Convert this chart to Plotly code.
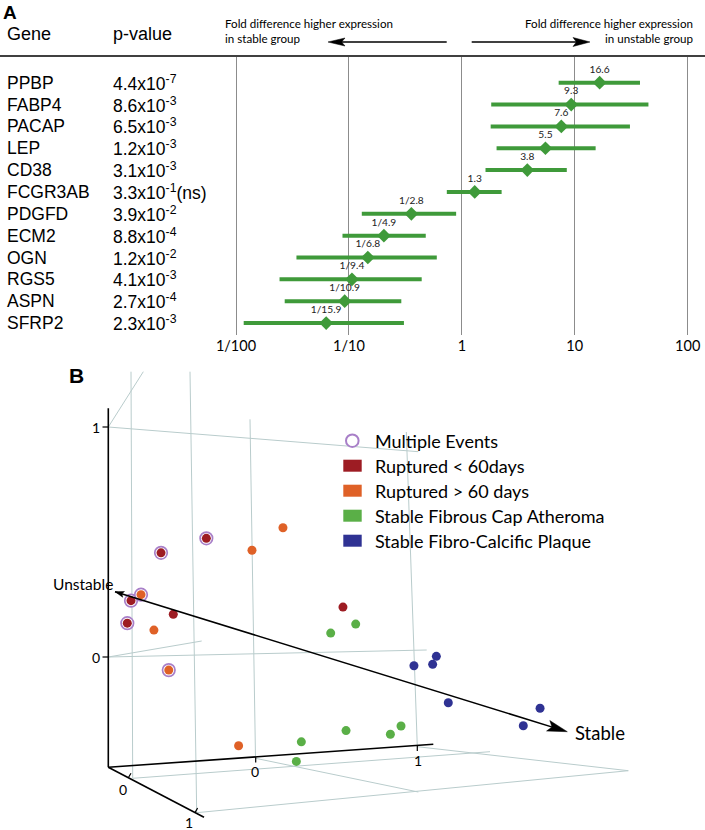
import math
import plotly.graph_objects as go

# ---------------- Panel A data ----------------
genes = ["PPBP", "FABP4", "PACAP", "LEP", "CD38", "FCGR3AB", "PDGFD", "ECM2",
         "OGN", "RGS5", "ASPN", "SFRP2"]
p_mantissa = ["4.4", "8.6", "6.5", "1.2", "3.1", "3.3", "3.9", "8.8", "1.2", "4.1", "2.7", "2.3"]
p_exponent = [-7, -3, -3, -3, -3, -1, -2, -4, -2, -3, -4, -3]
p_note = ["", "", "", "", "", "(ns)", "", "", "", "", "", ""]
fold = [16.6, 9.3, 7.6, 5.5, 3.8, 1.3, 1 / 2.8, 1 / 4.9, 1 / 6.8, 1 / 9.4, 1 / 10.9, 1 / 15.9]
fold_labels = ["16.6", "9.3", "7.6", "5.5", "3.8", "1.3", "1/2.8", "1/4.9", "1/6.8",
               "1/9.4", "1/10.9", "1/15.9"]
ci_low = [7.2, 1.82, 1.8, 2.03, 1.62, 0.736, 0.130, 0.0877, 0.0343, 0.0243, 0.027, 0.0117]
ci_high = [37.8, 44.9, 30.8, 15.3, 8.5, 2.25, 0.89, 0.479, 0.60, 0.441, 0.291, 0.307]
x_tickvals = [0.01, 0.1, 1, 10, 100]
x_ticktext = ["1/100", "1/10", "1", "10", "100"]

# ---------------- Panel B data (projected plane units) ----------------
legend_names = ["Multiple Events", "Ruptured < 60days", "Ruptured > 60 days",
                "Stable Fibrous Cap Atheroma", "Stable Fibro-Calcific Plaque"]
red_u = [-0.587, -0.306, -0.773, -0.796, -0.511, 0.541]
red_v = [0.453, 0.516, 0.245, 0.147, 0.186, 0.217]
red_multi = [1, 1, 1, 1, 0, 0]
orange_u = [-0.711, -0.631, -0.539, -0.023, 0.169, -0.106]
orange_v = [0.271, 0.117, -0.057, 0.464, 0.562, -0.386]
orange_multi = [1, 0, 1, 0, 0, 0]
green_u = [0.465, 0.620, 0.283, 0.252, 0.560, 0.835, 0.901]
green_v = [0.104, 0.143, -0.369, -0.454, -0.320, -0.336, -0.300]
blue_u = [0.981, 1.097, 1.120, 1.194, 1.763, 1.659]
blue_v = [-0.038, -0.032, 0.003, -0.199, -0.223, -0.299]

# ---------------- styling ----------------
W, H = 705, 830
GREEN_A = "#3f9a3a"
RED = "#9d1c23"
ORANGE = "#df6127"
GREEN = "#5aaf47"
BLUE = "#2f3293"
PURPLE = "#a87fc8"
GRID_B = "#b9cccc"
MYRIAD = "Lato"
ARIAL = "Liberation Sans"

shapes = []
annotations = []


def px(x, y):
    return x / W, 1 - y / H


def seg(x0, y0, x1, y1, color="black", width=1.0, layer="below"):
    a0, b0 = px(x0, y0)
    a1, b1 = px(x1, y1)
    shapes.append(dict(type="line", xref="paper", yref="paper", x0=a0, y0=b0, x1=a1, y1=b1,
                       line=dict(color=color, width=width), layer=layer))


def box(x0, y0, x1, y1, kind="rect", fill="black", line_color=None, line_width=0):
    a0, b0 = px(x0, y1)
    a1, b1 = px(x1, y0)
    shapes.append(dict(type=kind, xref="paper", yref="paper", x0=a0, y0=b0, x1=a1, y1=b1,
                       fillcolor=fill, layer="above",
                       line=dict(color=line_color or fill, width=line_width)))


def head(tx, ty, sx, sy, L, Wd, color="black"):
    dx, dy = tx - sx, ty - sy
    n = math.hypot(dx, dy)
    dx, dy = dx / n, dy / n
    nx, ny = -dy, dx
    bx, by = tx - L * dx, ty - L * dy
    nbx, nby = tx - 0.8 * L * dx, ty - 0.8 * L * dy
    pts = [(tx, ty), (bx + Wd * nx, by + Wd * ny), (nbx, nby), (bx - Wd * nx, by - Wd * ny)]
    path = "M " + " L ".join("%f,%f" % px(*p) for p in pts) + " Z"
    shapes.append(dict(type="path", xref="paper", yref="paper", path=path,
                       fillcolor=color, line=dict(color=color, width=0.5), layer="above"))


def txt(x, y, text, size, family=MYRIAD, xanchor="center", yanchor="middle",
        align="center", color="black", yref="paper"):
    xx, yy = px(x, y)
    if yref != "paper":
        yy = y
    annotations.append(dict(x=xx, y=yy, xref="paper", yref=yref, text=text, showarrow=False,
                            xanchor=xanchor, yanchor=yanchor, align=align,
                            font=dict(size=size, family=family, color=color)))


fig = go.Figure()

# ---------------- Panel A ----------------
rows = list(range(len(genes)))
fig.add_trace(go.Scatter(
    x=fold, y=rows, mode="markers+text",
    marker=dict(symbol="diamond", size=10.5, color=GREEN_A),
    error_x=dict(type="data", symmetric=False,
                 array=[h - f for h, f in zip(ci_high, fold)],
                 arrayminus=[f - l for f, l in zip(fold, ci_low)],
                 thickness=4, width=0, color=GREEN_A),
    text=fold_labels, textposition="top center",
    textfont=dict(size=10.2, family=MYRIAD, color="#222222"),
    cliponaxis=False, showlegend=False, hoverinfo="skip",
    xaxis="x", yaxis="y"))

for i, g in enumerate(genes):
    txt(5, i, g, 17.5, family=ARIAL, xanchor="left", yref="y")
    txt(111, i, "%sx10<sup>%d</sup>%s" % (p_mantissa[i], p_exponent[i], p_note[i]), 17.5,
        family=ARIAL, xanchor="left", yref="y")

txt(1, 12, "<b>A</b>", 19, family=ARIAL, xanchor="left")
txt(5, 34, "Gene", 18, family=ARIAL, xanchor="left")
txt(111, 34, "p-value", 18, family=ARIAL, xanchor="left")
txt(223, 31, "Fold difference higher expression<br>in stable group", 11.6,
    xanchor="left", align="left")
txt(695, 31, "Fold difference higher expression<br>in unstable group", 11.6,
    xanchor="right", align="right")
seg(0, 56, 705, 56, "black", 1.5, layer="above")
seg(446.7, 42, 335, 42, "black", 1.5, layer="above")
head(328, 42, 446.7, 42, 17, 4)
seg(471.7, 42, 583, 42, "black", 1.5, layer="above")
head(590, 42, 471.7, 42, 17, 4.5)

# ---------------- Panel B ----------------
grid_lines = [
    (131, 371.7, 132.7, 778.3), (190, 371.7, 196.7, 812.7), (250, 419.3, 255.5, 758.3),
    (406.3, 432, 417.3, 746.7), (108.3, 427, 143.3, 371.7), (108.3, 427, 418.3, 451.7),
    (108.3, 657, 426.7, 650), (108.3, 657, 201.7, 641), (132.7, 778.3, 490, 751.7),
    (196.7, 812.7, 628.3, 770.7), (255.5, 758.3, 418.3, 792), (417.3, 746.7, 628.3, 770.7),
]
for l in grid_lines:
    seg(*l, color=GRID_B, width=1)

axis_lines = [(108.3, 408.3, 108.3, 767.3), (108.3, 767.3, 433.3, 744.3), (108.3, 767.3, 204, 817.3)]
for l in axis_lines:
    seg(*l, color="black", width=1.6)
tick_lines = [(102.5, 427, 108.3, 427), (102.5, 657, 108.3, 657),
              (255.7, 756.9, 255.7, 762.5), (417.3, 745.4, 417.3, 751),
              (128.3, 777.8, 131, 773.2), (195, 812.6, 197.6, 808)]
for l in tick_lines:
    seg(*l, color="black", width=1.2)

txt(96, 427, "1", 14)
txt(96, 657, "0", 14)
txt(255, 771, "0", 14)
txt(418, 760, "1", 14)
txt(123, 789, "0", 14)
txt(188.5, 822, "1", 14)
txt(76, 375, "<b>B</b>", 21, family=ARIAL)

seg(115, 591.7, 562, 730.1, "black", 1.5, layer="above")
head(567.3, 731.7, 115, 591.7, 20, 5.5)
head(115, 591.7, 567.3, 731.7, 9, 3)
txt(83, 583.5, "Unstable", 15.5)
txt(572.5, 732.5, "Stable", 18.5, xanchor="left")

groups = [(red_u, red_v, red_multi, RED), (orange_u, orange_v, orange_multi, ORANGE),
          (green_u, green_v, None, GREEN), (blue_u, blue_v, None, BLUE)]

ring_u, ring_v = [], []
for u, v, m, c in groups:
    if m:
        ring_u += [a for a, k in zip(u, m) if k]
        ring_v += [b for b, k in zip(v, m) if k]

fig.add_trace(go.Scatter(
    x=ring_u, y=ring_v, mode="markers", name=legend_names[0],
    marker=dict(size=12.5, color="white", line=dict(color=PURPLE, width=1.7)),
    showlegend=False, xaxis="x2", yaxis="y2", hoverinfo="skip"))

for (u, v, m, c), name in zip(groups, legend_names[1:]):
    fig.add_trace(go.Scatter(x=u, y=v, mode="markers", marker=dict(size=9, color=c), name=name,
                             showlegend=False, xaxis="x2", yaxis="y2", hoverinfo="skip"))

# legend block (key drawn beside the 3-D view)
legend_colors = [None, RED, ORANGE, GREEN, BLUE]
for i, (name, c) in enumerate(zip(legend_names, legend_colors)):
    yy = 440.7 + 25 * i
    if c is None:
        box(346, yy - 6.3, 358.6, yy + 6.3, kind="circle", fill="white",
            line_color=PURPLE, line_width=2)
    else:
        box(343.3, yy - 6, 361.7, yy + 6, fill=c)
    txt(372.7, yy, name, 18, xanchor="left")

fig.update_layout(
    width=W, height=H, margin=dict(l=0, r=0, t=0, b=0),
    paper_bgcolor="white", plot_bgcolor="rgba(0,0,0,0)",
    font=dict(family=MYRIAD, color="black"),
    xaxis=dict(type="log", domain=[px(176.25, 0)[0], 1.0], range=[-2.5291, 2.1532],
               tickvals=x_tickvals, ticktext=x_ticktext, showgrid=True,
               gridcolor="#8c8c8c", gridwidth=1, zeroline=False, showline=False,
               ticks="", tickfont=dict(size=14.5, family=MYRIAD, color="black"),
               anchor="y", fixedrange=True),
    yaxis=dict(domain=[px(0, 335)[1], px(0, 57)[1]], range=[11.547, -1.176],
               showgrid=False, zeroline=False, showticklabels=False, showline=False,
               anchor="x", fixedrange=True),
    xaxis2=dict(domain=[0, 1], range=[-1.58524, 2.78549], visible=False, anchor="y2",
                fixedrange=True),
    yaxis2=dict(domain=[0, 0.55], range=[-0.75217, 1.23261], visible=False, anchor="x2",
                fixedrange=True),
    showlegend=False,
    shapes=shapes, annotations=annotations,
)

fig.write_html("out.html", config={"displayModeBar": False},
               post_script="document.body.style.margin='0px';")
